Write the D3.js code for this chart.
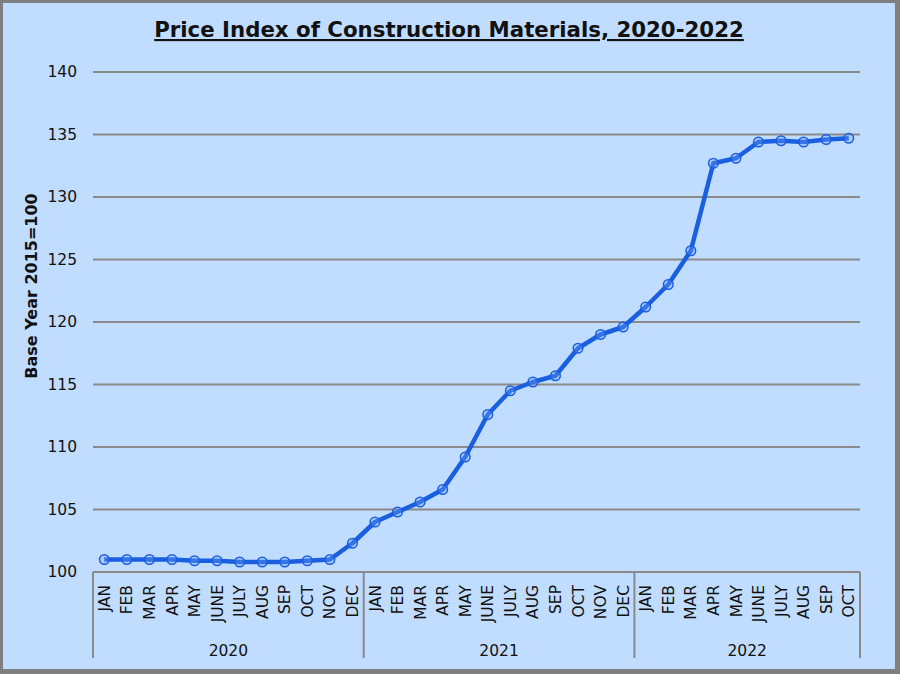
<!DOCTYPE html>
<html>
<head>
<meta charset="utf-8">
<script src="https://cdn.jsdelivr.net/npm/d3@7/dist/d3.min.js"></script>
<style>
html,body{margin:0;padding:0;background:#fff;}
svg{display:block;}
</style>
</head>
<body>
<script>
const title = "Price Index of Construction Materials, 2020-2022";
const yAxisTitle = "Base Year 2015=100";
const years = ["2020", "2021", "2022"];
const months2020 = ["JAN","FEB","MAR","APR","MAY","JUNE","JULY","AUG","SEP","OCT","NOV","DEC"];
const months2021 = ["JAN","FEB","MAR","APR","MAY","JUNE","JULY","AUG","SEP","OCT","NOV","DEC"];
const months2022 = ["JAN","FEB","MAR","APR","MAY","JUNE","JULY","AUG","SEP","OCT"];
const values2020 = [101.0,101.0,101.0,101.0,100.9,100.9,100.8,100.8,100.8,100.9,101.0,102.3];
const values2021 = [104.0,104.8,105.6,106.6,109.2,112.6,114.5,115.2,115.7,117.9,119.0,119.6];
const values2022 = [121.2,123.0,125.7,132.7,133.1,134.4,134.5,134.4,134.6,134.7];
const yTicks = [100,105,110,115,120,125,130,135,140];

(function(){
const W = 900, H = 674;
const svg = d3.select("body").append("svg").attr("width", W).attr("height", H);

// frame
svg.append("rect").attr("x",0).attr("y",0).attr("width",W).attr("height",H).attr("fill","#7f7f7f");
svg.append("rect").attr("x",3).attr("y",3).attr("width",W-8).attr("height",H-8).attr("fill","#c0dcfe");

const groups = [
  {year: years[0], months: months2020, values: values2020},
  {year: years[1], months: months2021, values: values2021},
  {year: years[2], months: months2022, values: values2022}
];
const data = [];
groups.forEach(g => g.months.forEach((m, i) => data.push({key: g.year + "-" + m, month: m, year: g.year, value: g.values[i]})));

const pLeft = 93, pRight = 860, pTop = 72, pBottom = 572;
const x = d3.scaleBand().domain(data.map(d => d.key)).range([pLeft, pRight]).paddingInner(0).paddingOuter(0);
const y = d3.scaleLinear().domain([100, 140]).range([pBottom, pTop]);

const font = "'DejaVu Sans', Verdana, sans-serif";

// title
svg.append("text").attr("x", 449).attr("y", 37).attr("text-anchor","middle")
  .attr("font-family", font).attr("font-weight","bold").attr("font-size", 21.3).attr("fill","#111")
  .attr("text-decoration","underline").text(title);

// gridlines
svg.append("g").selectAll("line").data(yTicks.filter(v => v > 100)).join("line")
  .attr("x1", pLeft).attr("x2", pRight).attr("y1", d => y(d)).attr("y2", d => y(d))
  .attr("stroke", "#8a8a8a").attr("stroke-width", 2);

// y axis labels
const yAxis = d3.axisLeft(y).tickValues(yTicks).tickSize(0).tickPadding(16);
const gy = svg.append("g").attr("transform", `translate(${pLeft},0)`).call(yAxis);
gy.select(".domain").remove();
gy.selectAll("text").attr("font-family", font).attr("font-size", 15.5).attr("fill", "#111");

// y title
svg.append("text").attr("transform", `translate(37,286) rotate(-90)`)
  .attr("text-anchor","middle").attr("font-family", font).attr("font-weight","bold")
  .attr("font-size", 16).attr("fill","#111").text(yAxisTitle);

// x axis line
svg.append("line").attr("x1", pLeft).attr("x2", pRight).attr("y1", pBottom).attr("y2", pBottom)
  .attr("stroke", "#8a8a8a").attr("stroke-width", 2);

// month labels
const xAxis = d3.axisBottom(x).tickSize(0).tickFormat(k => k.split("-")[1]);
const gx = svg.append("g").attr("transform", `translate(0,${pBottom})`).call(xAxis);
gx.select(".domain").remove();
gx.selectAll("text").attr("font-family", font).attr("font-size", 15.5).attr("fill","#111")
  .attr("transform","rotate(-90)").attr("text-anchor","end").attr("dy","0.36em")
  .attr("x", -13).attr("y", 0);

// group dividers & year labels
let idx = 0;
const bounds = [];
groups.forEach(g => {
  const first = data[idx].key, last = data[idx + g.months.length - 1].key;
  bounds.push({year: g.year, x0: x(first), x1: x(last) + x.bandwidth()});
  idx += g.months.length;
});
const divX = [bounds[0].x0].concat(bounds.map(b => b.x1));
svg.append("g").selectAll("line").data(divX).join("line")
  .attr("x1", d => d).attr("x2", d => d).attr("y1", pBottom).attr("y2", 658)
  .attr("stroke", "#8a8a8a").attr("stroke-width", 2);
svg.append("g").selectAll("text").data(bounds).join("text")
  .attr("x", d => (d.x0 + d.x1) / 2).attr("y", 656).attr("text-anchor","middle")
  .attr("font-family", font).attr("font-size", 15.5).attr("fill","#111").text(d => d.year);

// line
const line = d3.line().x(d => x(d.key) + x.bandwidth()/2).y(d => y(d.value));
svg.append("path").datum(data).attr("d", line).attr("fill","none")
  .attr("stroke","#1a5fe0").attr("stroke-width", 4.5).attr("stroke-linejoin","round");
svg.append("g").selectAll("circle").data(data).join("circle")
  .attr("cx", d => x(d.key) + x.bandwidth()/2).attr("cy", d => y(d.value)).attr("r", 4.8)
  .attr("fill","#7aa6f5").attr("fill-opacity",0.3).attr("stroke","#1a5fe0").attr("stroke-width",1.5);
})();
</script>
</body>
</html>
